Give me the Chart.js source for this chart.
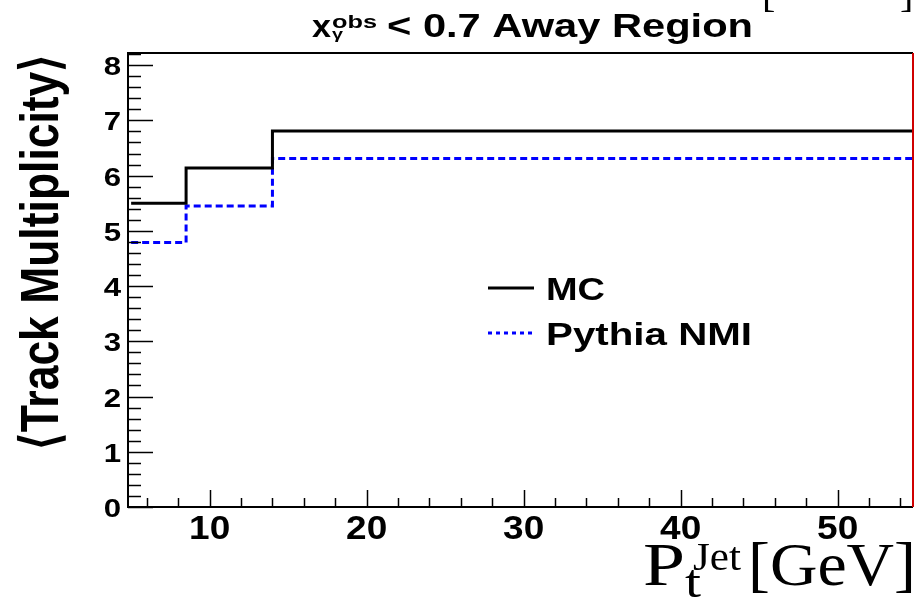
<!DOCTYPE html>
<html>
<head>
<meta charset="utf-8">
<script src="https://cdn.jsdelivr.net/npm/chart.js@4.4.1/dist/chart.umd.min.js"></script>
<style>
  html, body { margin: 0; padding: 0; background: #fff; }
  #wrap { width: 919px; height: 600px; }
</style>
</head>
<body>
<div id="wrap"><canvas id="c" width="919" height="600"></canvas></div>
<script>
// bin low edges (GeV) and step heights, last point closes the histogram
const binEdges = [5, 8.5, 14, 55];
const mcValues = [5.50, 6.14, 6.81, 6.81];
const pythiaValues = [4.79, 5.45, 6.31, 6.31];

const xTicks = [10, 20, 30, 40, 50];
const yTicks = [0, 1, 2, 3, 4, 5, 6, 7, 8];
const seriesNames = ['MC', 'Pythia NMI'];

const toPoints = vals => binEdges.map((x, i) => ({ x: x, y: vals[i] }));

const SANS = '"Liberation Sans", Arial, sans-serif';
const SERIF = '"Liberation Serif", "Times New Roman", serif';

// draws text squeezed/stretched horizontally to a given width
function fitText(ctx, str, x, y, font, width, align) {
    ctx.save();
    ctx.font = font;
    const w = ctx.measureText(str).width;
    const s = width ? width / w : 1;
    ctx.translate(x, y);
    ctx.scale(s, 1);
    ctx.textAlign = align || 'left';
    ctx.textBaseline = 'alphabetic';
    ctx.fillText(str, 0, 0);
    ctx.restore();
}

// ROOT-like frame, ticks, labels and legend
const rootFrame = {
    id: 'rootFrame',
    afterDraw(chart) {
        const ctx = chart.ctx;
        const a = chart.chartArea;
        const xs = chart.scales.x, ys = chart.scales.y;
        ctx.save();

        // frame
        ctx.strokeStyle = '#000';
        ctx.lineWidth = 2;
        ctx.beginPath();
        ctx.moveTo(a.right, a.top);
        ctx.lineTo(a.left, a.top);
        ctx.lineTo(a.left, a.bottom);
        ctx.lineTo(a.right, a.bottom);
        ctx.stroke();
        ctx.strokeStyle = '#d00000';
        ctx.beginPath();
        ctx.moveTo(a.right, a.top);
        ctx.lineTo(a.right, a.bottom);
        ctx.stroke();

        // y ticks
        ctx.strokeStyle = '#000';
        ctx.lineWidth = 1.5;
        for (let i = 0; i <= 41; i++) {
            const v = i * 0.2;
            const y = Math.round(ys.getPixelForValue(v)) + 0.5;
            const major = i % 5 === 0;
            ctx.beginPath();
            ctx.moveTo(a.left, y);
            ctx.lineTo(a.left + (major ? 25 : 13), y);
            ctx.stroke();
        }
        // x ticks
        for (let v = 6; v <= 54; v += 2) {
            const x = Math.round(xs.getPixelForValue(v)) + 0.5;
            const major = v % 10 === 0;
            ctx.beginPath();
            ctx.moveTo(x, a.bottom);
            ctx.lineTo(x, a.bottom - (major ? 17 : 9));
            ctx.stroke();
        }

        // tick labels
        ctx.fillStyle = '#000';
        yTicks.forEach(v => {
            ctx.font = 'bold 26px ' + SANS;
            const w = ctx.measureText(String(v)).width * 1.2;
            fitText(ctx, String(v), 121, ys.getPixelForValue(v) + 10, 'bold 26px ' + SANS, w, 'right');
        });
        xTicks.forEach(v => {
            ctx.font = 'bold 33px ' + SANS;
            const w = ctx.measureText(String(v)).width * 1.12;
            fitText(ctx, String(v), xs.getPixelForValue(v), 539, 'bold 33px ' + SANS, w, 'center');
        });

        // y axis title
        ctx.save();
        ctx.translate(58, 252);
        ctx.rotate(-Math.PI / 2);
        ctx.font = 'bold 44px ' + SANS;
        const yt = '\u27E8Track Multiplicity\u27E9';
        const ytw = ctx.measureText(yt).width;
        ctx.scale(395 / ytw, 1.2);
        ctx.textAlign = 'center';
        ctx.textBaseline = 'alphabetic';
        ctx.fillText(yt, 0, 0);
        ctx.restore();

        // x axis title
        fitText(ctx, 'P', 643, 585, '62px ' + SERIF, 42);
        fitText(ctx, 't', 685, 597, '46px ' + SERIF, 16);
        fitText(ctx, 'Jet', 693, 570, '40px ' + SERIF, 48);
        fitText(ctx, '[GeV]', 748, 585, '62px ' + SERIF, 168);

        // title
        fitText(ctx, 'x', 312, 37, 'bold 32px ' + SANS, 19);
        fitText(ctx, 'obs', 332, 28, 'bold 18px ' + SANS, 45);
        fitText(ctx, '\u03B3', 332, 39, 'bold 15px ' + SANS, 11);
        fitText(ctx, '< 0.7 Away Region', 387, 37, 'bold 33px ' + SANS, 366);

        // clipped bracket fragments at the very top
        fitText(ctx, '[', 762, 7, '40px ' + SERIF);
        fitText(ctx, ']', 900, 7, '40px ' + SERIF);

        // legend
        const leg = [
            { y: 288, color: '#000', dash: [], w: 59, base: 300 },
            { y: 333, color: '#0000ff', dash: [4, 4], w: 206, base: 345 }
        ];
        leg.forEach((l, i) => {
            ctx.strokeStyle = l.color;
            ctx.lineWidth = 3;
            ctx.setLineDash(l.dash);
            ctx.beginPath();
            ctx.moveTo(488, l.y);
            ctx.lineTo(534, l.y);
            ctx.stroke();
            ctx.setLineDash([]);
            ctx.fillStyle = '#000';
            fitText(ctx, seriesNames[i], 546, l.base, 'bold 31px ' + SANS, l.w);
        });
        ctx.restore();
    }
};

new Chart(document.getElementById('c'), {
    type: 'line',
    data: {
        datasets: [
            {
                label: seriesNames[0],
                data: toPoints(mcValues),
                stepped: 'before',
                borderColor: '#000',
                borderWidth: 3,
                pointRadius: 0,
                fill: false
            },
            {
                label: seriesNames[1],
                data: toPoints(pythiaValues),
                stepped: 'before',
                borderColor: '#0000ff',
                borderWidth: 3,
                borderDash: [7, 4],
                pointRadius: 0,
                fill: false
            }
        ]
    },
    options: {
        responsive: false,
        animation: false,
        layout: { padding: { left: 128, top: 53, right: 6, bottom: 93 } },
        plugins: {
            legend: { display: false },
            tooltip: { enabled: false }
        },
        scales: {
            x: { type: 'linear', min: 4.8, max: 54.8, display: false },
            y: { type: 'linear', min: 0, max: 8.22, display: false }
        }
    },
    plugins: [rootFrame]
});
</script>
</body>
</html>
